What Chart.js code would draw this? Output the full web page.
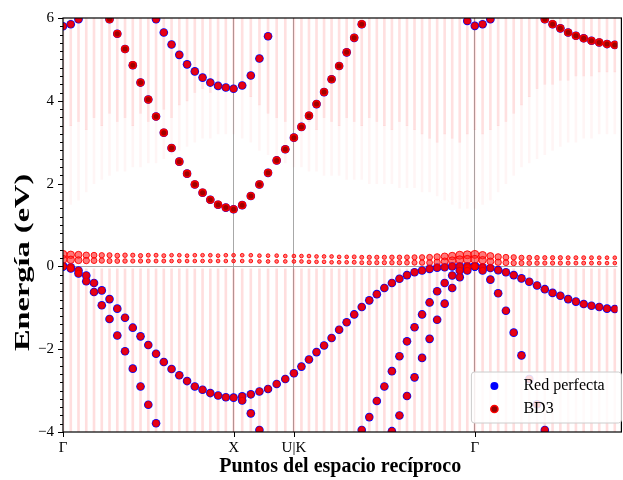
<!DOCTYPE html>
<html>
<head>
	<meta charset="UTF-8">
	<title>bandas</title>
	<script src="https://cdn.jsdelivr.net/npm/chart.js"></script>
	<style>
	html, body {margin:0; padding:0; background:#fff;}
	#caja {width:623px; height:480px; position:relative;}
	</style>
</head>
<body>
<div id="caja">
	<canvas id="myChart" width="623" height="480"></canvas>
</div>
<script>
// camino Γ-X-U|K-Γ-L (longitud en unidades de 2π/a)
var kPuntos = [
	0, 0.0455, 0.0909, 0.1364, 0.1818, 0.2273, 0.2727, 0.3182, 0.3636, 0.4091, 0.4545, 0.5, 0.5455, 0.5909, 0.6364, 0.6818, 0.7273, 0.7727, 0.8182, 0.8636, 0.9091, 0.9545, 1,
	1.0505, 1.1010, 1.1515, 1.2020, 1.2526, 1.3031, 1.3536,
	1.3978, 1.4420, 1.4862, 1.5304, 1.5745, 1.6187, 1.6629, 1.7071, 1.7513, 1.7955, 1.8397, 1.8839, 1.9281, 1.9723, 2.0165, 2.0607, 2.1049, 2.1491, 2.1933, 2.2374, 2.2816, 2.3258, 2.3700, 2.4142,
	2.4598, 2.5054, 2.5510, 2.5965, 2.6421, 2.6877, 2.7333, 2.7789, 2.8245, 2.8700, 2.9156, 2.9612, 3.0068, 3.0524, 3.0980, 3.1435, 3.1891, 3.2347, 3.2803
];
var etiquetasK = ['Γ', 'X', 'U|K', 'Γ'];
var posEtiquetas = [0, 1, 1.3536, 2.4142];
var ticksEnergia = [-4, -2, 0, 2, 4, 6];
var N = null;

// Red perfecta: bandas (eV)
var bv1 = [
	0, -0.02, -0.10, -0.22, -0.40, -0.58, -0.79, -1.02, -1.24, -1.48, -1.69, -1.90, -2.11, -2.31, -2.48, -2.63, -2.77, -2.90, -2.98, -3.06, -3.12, -3.16, -3.17,
	-3.14, -3.09, -3.02, -2.96, -2.84, -2.72, -2.58,
	-2.42, -2.25, -2.07, -1.91, -1.73, -1.53, -1.35, -1.16, -0.98, -0.82, -0.67, -0.52, -0.40, -0.30, -0.21, -0.14, -0.10, -0.06, -0.03, -0.02, 0, 0, 0, 0,
	-0.02, -0.04, -0.09, -0.14, -0.21, -0.29, -0.37, -0.46, -0.55, -0.64, -0.71, -0.79, -0.85, -0.91, -0.95, -0.98, -1.02, -1.03, -1.04
];
var bv2 = [
	0, -0.05, -0.17, -0.36, -0.62, -0.94, -1.27, -1.67, -2.05, -2.47, -2.90, -3.34, -3.79, N, N, N, N, N, N, N, N, N, N,
	-3.24, -3.55, -3.95, N, N, N, N,
	N, N, N, N, N, N, N, N, -3.95, -3.64, -3.25, -2.90, -2.53, -2.17, -1.81, -1.47, -1.16, -0.87, -0.60, -0.40, -0.22, -0.10, -0.03, 0,
	-0.10, -0.32, -0.65, -1.07, -1.60, -2.15, -2.72, -3.33, -3.95, N, N, N, N, N, N, N, N, N, N
];
var bv3 = [
	N, N, N, N, N, N, N, N, N, N, N, N, N, N, N, N, N, N, N, N, N, N, N,
	N, N, N, N, N, N, N,
	N, N, N, N, N, N, N, N, N, N, N, N, -3.98, -3.60, -3.13, -2.68, -2.21, -1.75, -1.29, -0.90, -0.52, -0.26, -0.10, 0,
	N, N, N, N, N, N, N, N, N, N, N, N, N, N, N, N, N, N, N
];
var bc1 = [
	N, N, N, N, N, N, 5.97, 5.62, 5.25, 4.86, 4.44, 4.03, 3.62, 3.23, 2.86, 2.53, 2.24, 1.98, 1.78, 1.61, 1.49, 1.42, 1.38,
	1.48, 1.70, 1.98, 2.26, 2.56, 2.83, 3.11,
	3.37, 3.64, 3.92, 4.21, 4.52, 4.84, 5.17, 5.52, 5.85, N, N, N, N, N, N, N, N, N, N, N, N, N, N, N,
	N, N, N, N, N, N, N, N, 5.97, 5.85, 5.75, 5.65, 5.57, 5.51, 5.45, 5.41, 5.37, 5.35, 5.34
];
var bc2 = [
	N, N, N, N, N, N, N, N, N, N, N, N, 5.97, 5.65, 5.36, 5.11, 4.88, 4.71, 4.56, 4.44, 4.36, 4.32, 4.29,
	4.37, 4.61, 5.02, 5.56, N, N, N,
	N, N, N, N, N, N, N, N, N, N, N, N, N, N, N, N, N, N, N, N, N, N, N, N,
	N, N, N, N, N, N, N, N, N, N, N, N, N, N, N, N, N, N, N
];
var bc3 = [
	5.80, 5.85, 5.97, N, N, N, N, N, N, N, N, N, N, N, N, N, N, N, N, N, N, N, N,
	N, N, N, N, N, N, N,
	N, N, N, N, N, N, N, N, N, N, N, N, N, N, N, N, N, N, N, N, N, N, 5.93, 5.81,
	5.85, 5.97, N, N, N, N, N, N, N, N, N, N, N, N, N, N, N, N, N
];

// BD3: niveles del defecto cerca de 0 eV y su peso
var defA = [
	0.29, 0.28, 0.28, 0.27, 0.27, 0.27, 0.27, 0.26, 0.27, 0.27, 0.26, 0.27, 0.27, 0.26, 0.27, 0.27, 0.26, 0.27, 0.27, 0.27, 0.26, 0.27, 0.27,
	0.27, 0.27, 0.26, 0.26, 0.26, 0.25, 0.25,
	0.25, 0.25, 0.24, 0.24, 0.24, 0.23, 0.23, 0.23, 0.22, 0.22, 0.22, 0.22, 0.22, 0.22, 0.22, 0.22, 0.22, 0.22, 0.23, 0.24, 0.25, 0.27, 0.28, 0.29,
	0.27, 0.25, 0.23, 0.22, 0.22, 0.21, 0.21, 0.21, 0.21, 0.21, 0.21, 0.21, 0.21, 0.21, 0.21, 0.21, 0.21, 0.21, 0.21
];
var defB = [
	0.17, 0.16, 0.15, 0.14, 0.14, 0.14, 0.13, 0.13, 0.13, 0.13, 0.13, 0.13, 0.13, 0.13, 0.13, 0.13, 0.13, 0.13, 0.13, 0.13, 0.13, 0.13, 0.13,
	0.13, 0.13, 0.12, 0.12, 0.12, 0.12, 0.12,
	0.12, 0.11, 0.11, 0.11, 0.10, 0.10, 0.10, 0.10, 0.09, 0.09, 0.09, 0.09, 0.09, 0.09, 0.09, 0.09, 0.09, 0.09, 0.10, 0.12, 0.14, 0.16, 0.17, 0.17,
	0.15, 0.12, 0.10, 0.09, 0.08, 0.08, 0.08, 0.08, 0.08, 0.08, 0.08, 0.08, 0.08, 0.08, 0.08, 0.08, 0.08, 0.08, 0.08
];
var pesoDef = [
	1, 0.9, 0.8, 0.7, 0.6, 0.5, 0.45, 0.4, 0.35, 0.3, 0.3, 0.25, 0.25, 0.25, 0.2, 0.2, 0.2, 0.2, 0.2, 0.2, 0.2, 0.2, 0.2,
	0.2, 0.2, 0.2, 0.2, 0.2, 0.2, 0.2,
	0.2, 0.2, 0.2, 0.2, 0.2, 0.2, 0.2, 0.25, 0.25, 0.3, 0.3, 0.3, 0.35, 0.35, 0.4, 0.45, 0.5, 0.6, 0.7, 0.8, 0.9, 1, 1, 1,
	0.9, 0.8, 0.7, 0.6, 0.5, 0.45, 0.4, 0.35, 0.3, 0.3, 0.3, 0.25, 0.25, 0.25, 0.25, 0.2, 0.2, 0.2, 0.2
];

// BD3: estelas de peso pequeño (limites en eV por punto k)
var valTop = [
	-0.04, -0.05, -0.06, -0.06, -0.06, -0.06, -0.06, -0.06, -0.06, -0.06, -0.06, -0.06, -0.06, -0.06, -0.06, -0.06, -0.06, -0.06, -0.06, -0.06, -0.06, -0.06, -0.06,
	-0.06, -0.06, -0.06, -0.06, -0.06, -0.06, -0.06,
	-0.06, -0.06, -0.06, -0.06, -0.06, -0.06, -0.06, -0.06, -0.06, -0.06, -0.06, -0.06, -0.06, -0.06, -0.06, -0.06, -0.06, -0.05, -0.04, -0.04, -0.03, -0.03, -0.03, -0.03,
	-0.04, -0.05, -0.06, -0.06, -0.06, -0.06, -0.06, -0.06, -0.06, -0.06, -0.06, -0.06, -0.06, -0.06, -0.06, -0.06, -0.06, -0.06, -0.06
];
var condLow = [
	3.2, 3.4, 3.5, 3.3, 3.6, 3.4, 3.7, 3.5, 3.6, 3.4, 3.7, 3.5, 3.6, 3.8, 3.6, 3.9, 4.0, 4.2, 4.3, 4.2, 4.3, 4.3, 4.2,
	4.3, 4.1, 3.9, 3.7, 3.6, 3.5, 3.3,
	3.4, 3.5, 3.3, 3.6, 3.5, 3.4, 3.6, 3.5, 3.4, 3.6, 3.5, 3.4, 3.3, 3.5, 3.4, 3.3, 3.2, 3.1, 3.0, 3.2, 3.1, 3.0, 3.2, 3.3,
	3.2, 3.3, 3.4, 3.5, 3.7, 3.9, 4.1, 4.3, 4.4, 4.4, 4.5, 4.5, 4.6, 4.6, 4.6, 4.7, 4.7, 4.7, 4.7
];
var condSparse = [
	1.4, 1.5, 1.6, 1.8, 2.0, 2.1, 2.2, 2.3, 2.3, 2.4, 2.4, 2.5, 2.5, 2.6, 2.7, 2.8, 2.9, 3.0, 3.1, 3.1, 3.2, 3.2, 3.2,
	3.1, 3.0, 2.8, 2.7, 2.6, 2.5, 2.4,
	2.4, 2.3, 2.3, 2.2, 2.2, 2.2, 2.1, 2.1, 2.1, 2.0, 2.0, 2.0, 2.0, 1.9, 1.9, 1.9, 1.8, 1.8, 1.7, 1.6, 1.5, 1.4, 1.4, 1.4,
	1.5, 1.6, 1.8, 2.0, 2.2, 2.4, 2.5, 2.6, 2.7, 2.8, 2.9, 3.0, 3.0, 3.1, 3.1, 3.2, 3.2, 3.2, 3.2
];

var fuente = '"Liberation Serif", "Times New Roman", serif';
var tituloY = 'Energía (eV)';

function pares(banda) {
	var out = [];
	for (var i = 0; i < kPuntos.length; i++) {
		if (banda[i] !== null) out.push({x: kPuntos[i], y: banda[i]});
	}
	return out;
}
function todas(lista) {
	var out = [];
	lista.forEach(function(b){ out = out.concat(pares(b)); });
	return out;
}
function rango(lo, hi) {
	return kPuntos.map(function(k, i){ return {x: k, y: [lo[i], hi[i]]}; });
}
var fondo = kPuntos.map(function(){ return -4; });
var techo = kPuntos.map(function(){ return 6; });
var defPuntos = [];
var defRadio = [];
kPuntos.forEach(function(k, i){
	defPuntos.push({x: k, y: defA[i]}); defRadio.push(1.3 + 2.7 * pesoDef[i]);
	defPuntos.push({x: k, y: defB[i]}); defRadio.push(1.3 + 2.7 * pesoDef[i]);
});

// ejes: marcas menores, marco, titulo Y y leyenda
var extras = {
	id: 'extras',
	afterDatasetsDraw: function(chart){
		var ctx = chart.ctx, ca = chart.chartArea;
		var sy = chart.scales.y, sx = chart.scales.x;
		ctx.save();
		ctx.strokeStyle = '#000';
		ctx.lineWidth = 1;
		for (var j = 0; j <= 50; j++) {
			var py = Math.round(sy.getPixelForValue(-4 + j * 0.2)) + 0.5;
			var len = (j % 10 === 0) ? 5 : 3;
			ctx.beginPath(); ctx.moveTo(ca.left, py); ctx.lineTo(ca.left - len, py); ctx.stroke();
		}
		posEtiquetas.forEach(function(v){
			var px = Math.round(sx.getPixelForValue(v)) + 0.5;
			ctx.beginPath(); ctx.moveTo(px, ca.bottom); ctx.lineTo(px, ca.bottom + 5); ctx.stroke();
		});
		ctx.lineWidth = 1.2;
		ctx.strokeRect(ca.left, ca.top, ca.right - ca.left + 4, ca.bottom - ca.top);

		// titulo del eje Y (estirado como en la figura original)
		ctx.save();
		ctx.translate(24, sy.getPixelForValue(0) - 4);
		ctx.rotate(-Math.PI / 2);
		ctx.scale(1.62, 1);
		ctx.font = 'bold 20px ' + fuente;
		ctx.fillStyle = '#000';
		ctx.textAlign = 'center';
		ctx.textBaseline = 'middle';
		ctx.fillText(tituloY, 0, 0);
		ctx.restore();

		// leyenda
		var w = 146, h = 51;
		var x0 = ca.right - w, y0 = ca.bottom - h - 9;
		ctx.beginPath();
		ctx.roundRect(x0, y0, w + 4, h, 3);
		ctx.fillStyle = 'rgba(255,255,255,0.85)';
		ctx.fill();
		ctx.strokeStyle = '#cccccc';
		ctx.lineWidth = 1;
		ctx.stroke();
		var ds = chart.data.datasets;
		ctx.beginPath(); ctx.arc(x0 + 23, y0 + 14, 4, 0, 2 * Math.PI);
		ctx.fillStyle = ds[0].backgroundColor; ctx.fill();
		ctx.beginPath(); ctx.arc(x0 + 23, y0 + 37, 3.6, 0, 2 * Math.PI);
		ctx.fillStyle = 'rgb(150,0,0)'; ctx.fill();
		ctx.strokeStyle = 'rgb(255,0,0)'; ctx.lineWidth = 1.5; ctx.stroke();
		ctx.fillStyle = '#000';
		ctx.font = '16px ' + fuente;
		ctx.textBaseline = 'middle';
		ctx.fillText(ds[0].label, x0 + 52, y0 + 14);
		ctx.fillText(ds[1].label, x0 + 52, y0 + 37);
		ctx.restore();
	}
};

const ctx = document.getElementById('myChart');
new Chart(ctx, {
	type: 'scatter',
	data: {
		datasets: [
			{label: 'Red perfecta', data: todas([bv1, bv2, bv3, bc1, bc2, bc3]), backgroundColor: 'rgb(0,0,255)', borderWidth: 0, pointRadius: 4.3, order: 3, clip: 0},
			{label: 'BD3', data: todas([bv1, bv2, bv3, bc2, bc3]), backgroundColor: 'rgba(255,0,0,0.9)', borderColor: 'rgb(225,0,0)', borderWidth: 1, pointRadius: 3.2, order: 1, clip: 0},
			{label: 'BD3 cb', data: pares(bc1), backgroundColor: 'rgb(160,0,0)', borderColor: 'rgb(240,0,0)', borderWidth: 1.6, pointRadius: 3.3, order: 1, clip: 0},
			{label: 'BD3 def', data: defPuntos, backgroundColor: 'rgba(255,30,30,0.6)', borderColor: 'rgba(255,0,0,0.9)', borderWidth: 1, pointRadius: defRadio, order: 2, clip: 0},
			{type: 'bar', label: 'BD3 val', data: rango(fondo, valTop), backgroundColor: 'rgba(255,0,0,0.13)', barThickness: 2, grouped: false, order: 10},
			{type: 'bar', label: 'BD3 cond', data: rango(condLow, techo), backgroundColor: 'rgba(255,0,0,0.12)', barThickness: 2, grouped: false, order: 10},
			{type: 'bar', label: 'BD3 cond2', data: rango(condSparse, condLow), backgroundColor: 'rgba(255,0,0,0.04)', barThickness: 2, grouped: false, order: 10}
		]
	},
	options: {
		responsive: false,
		animation: false,
		layout: {padding: {top: 12, right: 1, left: 0, bottom: 0}},
		plugins: {legend: {display: false}, tooltip: {enabled: false}},
		scales: {
			x: {
				type: 'linear', min: 0, max: 3.25, offset: false,
				afterBuildTicks: function(s){ s.ticks = posEtiquetas.map(function(v){ return {value: v}; }); },
				afterFit: function(s){ s.height = 48; },
				ticks: {
					autoSkip: false, maxRotation: 0, padding: 7, color: '#000',
					font: {family: fuente, size: 15},
					callback: function(v, i){ return etiquetasK[i]; }
				},
				grid: {offset: false, drawTicks: false, lineWidth: 1, color: function(c){ return c.tick && c.tick.value > 0 ? '#a8a8a8' : 'rgba(0,0,0,0)'; }},
				border: {display: false},
				title: {display: true, text: 'Puntos del espacio recíproco', color: '#000', padding: {top: 0, bottom: 1}, font: {family: fuente, size: 20, weight: 'bold'}}
			},
			y: {
				min: -4, max: 6,
				afterBuildTicks: function(s){ s.ticks = ticksEnergia.map(function(v){ return {value: v}; }); },
				afterFit: function(s){ s.width = 63; },
				ticks: {
					padding: 9, color: '#000',
					font: {family: fuente, size: 15},
					callback: function(v){ return v < 0 ? '\u2212' + Math.abs(v) : String(v); }
				},
				grid: {drawTicks: false, lineWidth: 1, color: function(c){ return c.tick && c.tick.value === 0 ? '#a8a8a8' : 'rgba(0,0,0,0)'; }},
				border: {display: false},
				title: {display: false}
			}
		}
	},
	plugins: [extras]
});
</script>
</body>
</html>
